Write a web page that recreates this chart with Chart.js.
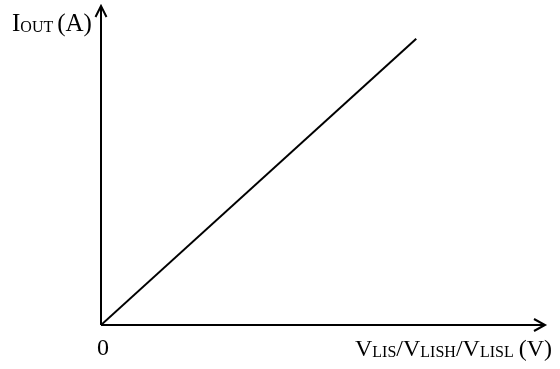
<!DOCTYPE html>
<html>
<head>
<meta charset="utf-8">
<script src="https://cdn.jsdelivr.net/npm/chart.js@4.4.0/dist/chart.umd.min.js"></script>
<style>
  html, body { margin: 0; padding: 0; background: #fff; }
  #wrap { width: 560px; height: 369px; }
</style>
</head>
<body>
<div id="wrap"><canvas id="c"></canvas></div>
<script>
  // data: straight line from origin
  const vLis = [0, 7.1];
  const iOut = [0, 8.97];
  const xMax = 10;
  const yMax = 10;

  const font = "Liberation Serif";

  // draws text runs with subscripts, returns end x
  function drawRuns(ctx, runs, x, y) {
    runs.forEach((r) => {
      ctx.font = (r.size) + "px '" + font + "'";
      ctx.fillText(r.t, x, y + (r.dy || 0));
      x += ctx.measureText(r.t).width + (r.gap || 0);
    });
    return x;
  }

  const axesPlugin = {
    id: "axesArrows",
    afterDatasetsDraw(chart) {
      const { ctx, chartArea: a } = chart;
      ctx.save();
      ctx.strokeStyle = "#000";
      ctx.lineWidth = 2;
      // axes
      ctx.beginPath();
      ctx.moveTo(a.left, a.bottom);
      ctx.lineTo(a.left, a.top);
      ctx.moveTo(a.left, a.bottom);
      ctx.lineTo(a.right, a.bottom);
      ctx.stroke();
      // arrow heads
      ctx.beginPath();
      ctx.moveTo(a.left - 5.5, a.top + 11);
      ctx.lineTo(a.left, a.top);
      ctx.lineTo(a.left + 5.5, a.top + 11);
      ctx.moveTo(a.right - 11, a.bottom - 6);
      ctx.lineTo(a.right, a.bottom);
      ctx.lineTo(a.right - 11, a.bottom + 6);
      ctx.stroke();

      ctx.fillStyle = "#000";
      ctx.textBaseline = "alphabetic";
      ctx.textAlign = "left";
      drawRuns(ctx, [
        { t: "I", size: 25 },
        { t: "OUT", size: 16, dy: 1, gap: 4 },
        { t: "(A)", size: 25 }
      ], 12, 31);

      ctx.font = "24px '" + font + "'";
      ctx.fillText("0", a.left - 4, a.bottom + 30);

      drawRuns(ctx, [
        { t: "V", size: 24 },
        { t: "LIS", size: 16, dy: 1 },
        { t: "/V", size: 24 },
        { t: "LISH", size: 16, dy: 1 },
        { t: "/V", size: 24 },
        { t: "LISL", size: 16, dy: 1, gap: 5 },
        { t: "(V)", size: 24 }
      ], 355, 356);
      ctx.restore();
    }
  };

  new Chart(document.getElementById("c"), {
    type: "line",
    data: {
      datasets: [{
        data: vLis.map((v, i) => ({ x: v, y: iOut[i] })),
        borderColor: "#000",
        borderWidth: 2,
        pointRadius: 0,
        fill: false,
        tension: 0
      }]
    },
    options: {
      responsive: true,
      maintainAspectRatio: false,
      animation: false,
      layout: { padding: { left: 101, top: 6, right: 15, bottom: 44 } },
      plugins: { legend: { display: false }, tooltip: { enabled: false } },
      scales: {
        x: { type: "linear", min: 0, max: xMax, display: false },
        y: { type: "linear", min: 0, max: yMax, display: false }
      }
    },
    plugins: [axesPlugin]
  });
</script>
</body>
</html>
